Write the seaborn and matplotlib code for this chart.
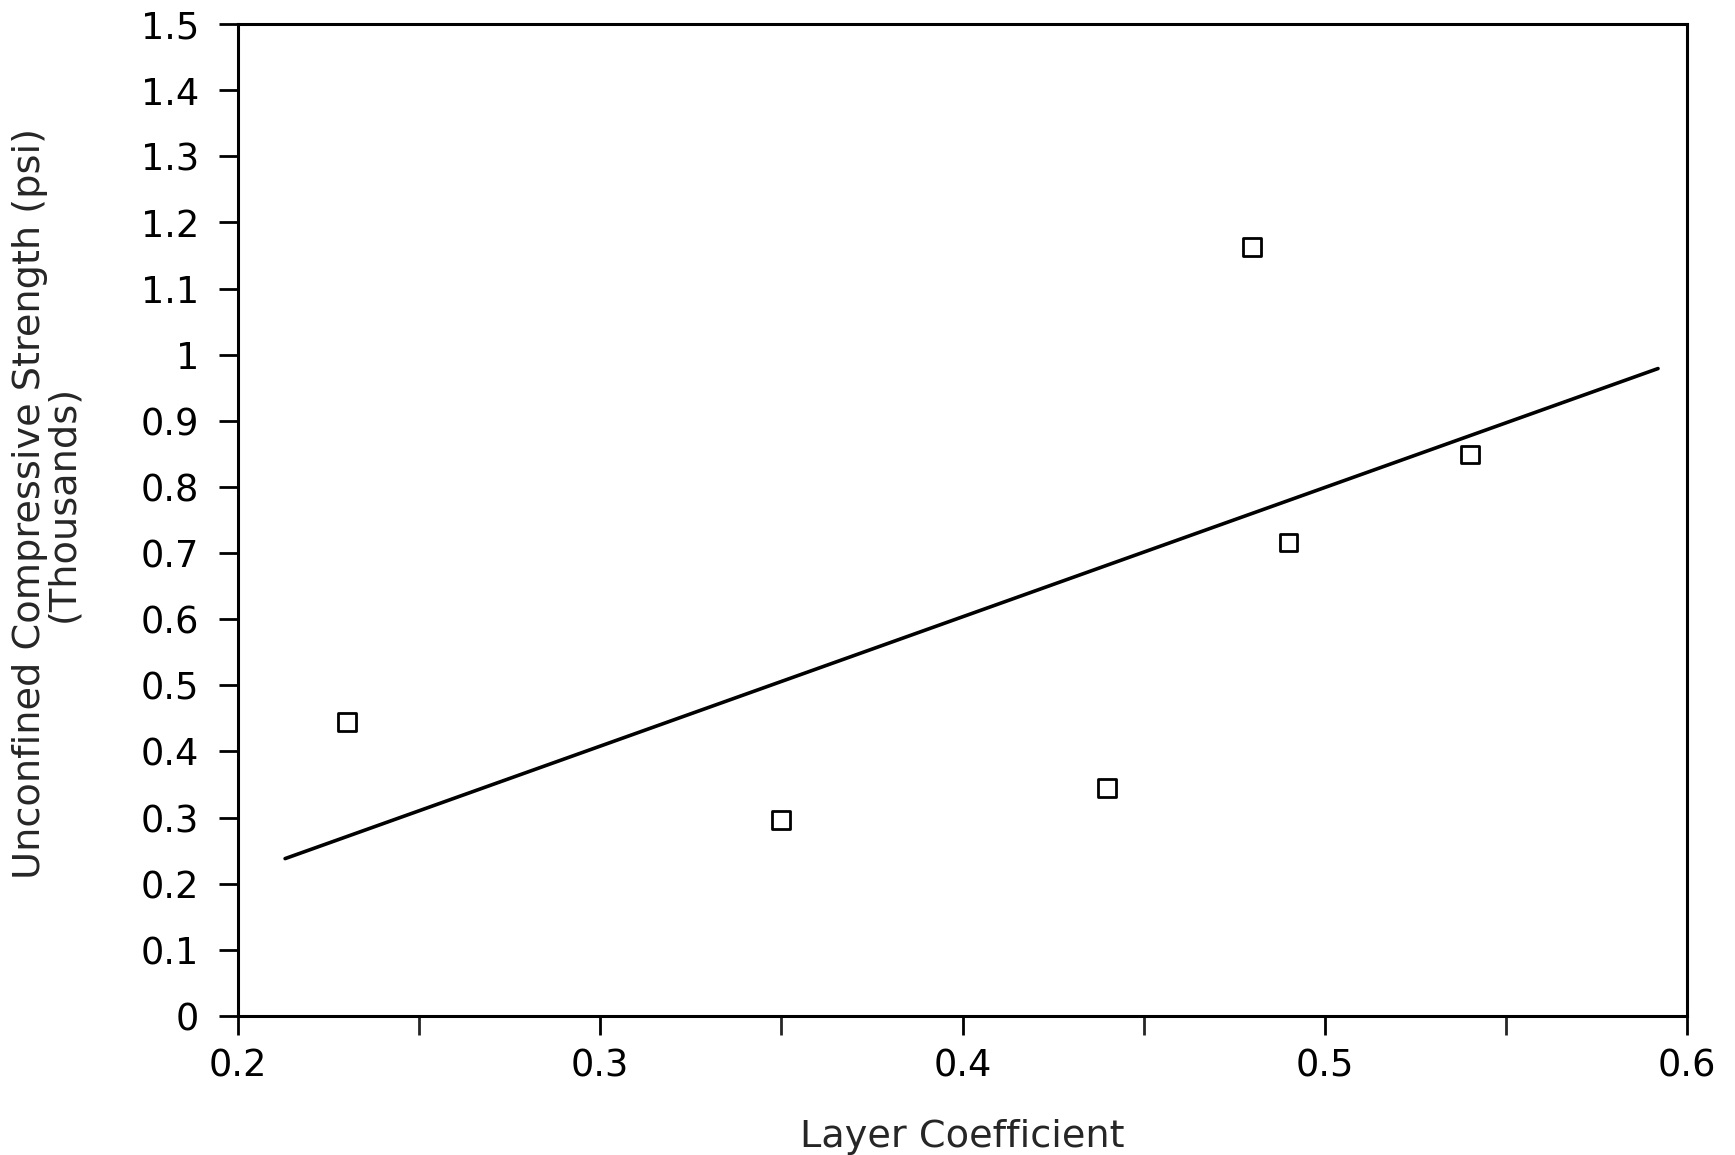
import matplotlib
matplotlib.use("Agg")
import matplotlib.pyplot as plt
import seaborn as sns
import pandas as pd
from matplotlib.ticker import MultipleLocator

# Data
layer_coef = [0.23, 0.35, 0.44, 0.48, 0.49, 0.54]
ucs_thousands = [0.445, 0.296, 0.345, 1.163, 0.716, 0.849]

fit_x = [0.213, 0.592]
fit_y = [0.238, 0.979]

x_ticks = [0.2, 0.3, 0.4, 0.5, 0.6]
y_ticks = [0, 0.1, 0.2, 0.3, 0.4, 0.5, 0.6, 0.7, 0.8, 0.9, 1.0, 1.1, 1.2, 1.3, 1.4, 1.5]
y_tick_labels = ["0", "0.1", "0.2", "0.3", "0.4", "0.5", "0.6", "0.7", "0.8", "0.9",
                 "1", "1.1", "1.2", "1.3", "1.4", "1.5"]

pts = pd.DataFrame({"x": layer_coef, "y": ucs_thousands})
fit = pd.DataFrame({"x": fit_x, "y": fit_y})

sns.set_style("ticks")
plt.rcParams["font.family"] = ["DejaVu Sans"]

fig = plt.figure(figsize=(17.35, 11.55), dpi=100)
ax = fig.add_axes([238 / 1735, 1 - 1016 / 1155, (1687 - 238) / 1735, (1016 - 24) / 1155])

sns.lineplot(data=fit, x="x", y="y", ax=ax, color="black", linewidth=2.6)
sns.scatterplot(data=pts, x="x", y="y", ax=ax, marker="s", s=165,
                facecolor="none", edgecolor="black", linewidth=2.0, zorder=5)

ax.set_xlim(0.2, 0.6)
ax.set_ylim(0, 1.5)
ax.set_xticks(x_ticks)
ax.set_xticklabels([f"{v:.1f}" for v in x_ticks])
ax.xaxis.set_minor_locator(MultipleLocator(0.05))
ax.set_yticks(y_ticks)
ax.set_yticklabels(y_tick_labels)

for s in ax.spines.values():
    s.set_visible(True)
    s.set_linewidth(2.2)
    s.set_color("black")

ax.tick_params(axis="both", which="major", direction="out", length=14, width=2.0,
               labelsize=26.5, colors="black", pad=14)
ax.tick_params(axis="x", which="major", pad=9)
ax.tick_params(axis="x", which="minor", direction="out", length=14, width=2.0)
ax.tick_params(top=False, right=False)

ax.set_xlabel("Layer Coefficient", fontsize=27.5)
ax.set_ylabel("Unconfined Compressive Strength (psi)\n(Thousands)", fontsize=27.5, linespacing=0.92)
ax.xaxis.set_label_coords(0.5, -0.104)
ax.yaxis.set_label_coords(-0.108, 0.517)

fig.savefig("out.png", dpi=100, facecolor="white")
